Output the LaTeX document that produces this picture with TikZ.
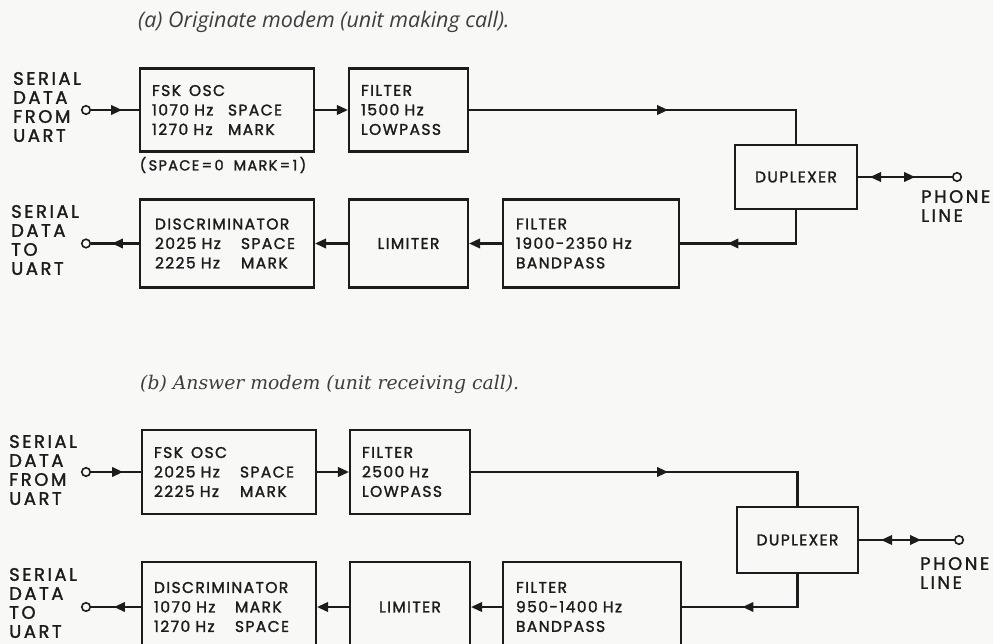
\documentclass[tikz,border=0pt]{standalone}
\usepackage{fontspec}
\setmainfont{Poppins}
\newfontfamily\capa[]{Open Sans}
\newfontfamily\capb[]{DejaVu Serif}
\newfontfamily\dia[LetterSpace=9, FakeBold=1.6]{Poppins}
\newfontfamily\dial[LetterSpace=14, FakeBold=1.6]{Poppins}
\usetikzlibrary{arrows.meta,decorations.markings}
\definecolor{ink}{RGB}{28,28,28}
\definecolor{paper}{RGB}{248,248,246}
\tikzset{
  x=1pt, y=-1pt,
  >={Triangle[length=11pt,width=9.5pt]},
  wire/.style={draw=ink, line width=2.1pt},
  box/.style={draw=ink, line width=2.1pt, inner xsep=12pt, inner ysep=0pt, align=left,
    text=ink, font=\dia\fontsize{15.5}{19.5}\selectfont},
  cbox/.style={box, align=center, inner xsep=0pt},
  term/.style={circle, draw=ink, line width=1.6pt, fill=paper, inner sep=0pt, minimum size=8.5pt},
  lbl/.style={align=left, inner sep=0pt, text=ink, font=\dial\fontsize{18}{19}\selectfont},
  midarr/.style={postaction={decorate, decoration={markings, mark=at position #1 with {\arrow{>}}}}},
  midrev/.style={postaction={decorate, decoration={markings, mark=at position #1 with {\arrowreversed{>}}}}},
}
\newcommand{\col}[2]{\makebox[#1][l]{#2}}
\begin{document}
\begin{tikzpicture}
\useasboundingbox (0,0) rectangle (993,644);
\fill[paper] (0,0) rectangle (993,644);
\clip (0,0) rectangle (993,644);

% ---------- (a) ----------
\node[anchor=west, inner sep=0pt, text=ink!85, font=\capa\itshape\fontsize{21.5}{24}\selectfont] (capA) at (138,22) {(a) Originate modem (unit making call).};

\node[lbl, anchor=west] (serA1) at (13,107) {SERIAL\\DATA\\FROM\\UART};
\node[lbl, anchor=west] (serA2) at (11,240) {SERIAL\\DATA\\TO\\UART};
\node[term] (inA) at (86,110) {};
\node[term] (outA) at (86,243.5) {};

\node[box, text width=150pt, minimum height=83pt] (fskA) at (227,110)
  {FSK\hspace{8pt}OSC\\\col{76pt}{1070~Hz}SPACE\\\col{76pt}{1270~Hz}MARK};
\node[box, text width=95pt, minimum height=83pt] (filA) at (408.5,110)
  {FILTER\\1500~Hz\\LOWPASS};
\node[cbox, minimum width=122pt, minimum height=64pt] (dupA) at (796,177) {DUPLEXER};
\node[box, inner xsep=15pt, text width=144pt, minimum height=88pt] (disA) at (227,243.5)
  {DISCRIMINATOR\\\col{86pt}{2025~Hz}SPACE\\\col{86pt}{2225~Hz}MARK};
\node[cbox, minimum width=119pt, minimum height=88pt] (limA) at (408.5,243.5) {LIMITER};
\node[box, inner xsep=13pt, text width=150pt, minimum height=88pt] (bpA) at (591,243.5)
  {FILTER\\1900-2350~Hz\\BANDPASS};
\node[term] (phA) at (957,177) {};
\node[lbl, anchor=west] (phoneA) at (921,206) {PHONE\\LINE};
\node[inner sep=0pt, text=ink, font=\dia\fontsize{14.5}{16}\selectfont] (smA) at (223,165) {(\,SPACE\,=\,0\hspace{10pt}MARK\,=\,1\,)};

\draw[wire, midarr=31pt] (inA) -- (fskA.west);
\draw[wire, ->] (fskA.east) -- (filA.west);
\draw[wire, midarr=199pt] (filA.east) -- (dupA.north |- filA.east) -- (dupA.north);
\draw[wire, midarr=102pt] (dupA.south) |- (bpA.east);
\draw[wire, ->] (bpA.west) -- (limA.east);
\draw[wire, ->] (limA.west) -- (disA.east);
\draw[wire, midarr=27pt] (disA.west) -- (outA);
\draw[wire, midrev=12pt, midarr=57pt] (dupA.east) -- (phA);

% ---------- (b) ----------
\node[anchor=west, inner sep=0pt, text=ink!85, font=\capb\itshape\fontsize{18.8}{22}\selectfont] (capB) at (140,384) {(b) Answer modem (unit receiving call).};

\node[lbl, anchor=west] (serB1) at (9,470) {SERIAL\\DATA\\FROM\\UART};
\node[lbl, anchor=west] (serB2) at (9,603) {SERIAL\\DATA\\TO\\UART};
\node[term] (inB) at (86,472) {};
\node[term] (outB) at (86,607) {};

\node[box, text width=150pt, minimum height=84pt] (fskB) at (229,472)
  {FSK\hspace{8pt}OSC\\\col{86pt}{2025~Hz}SPACE\\\col{86pt}{2225~Hz}MARK};
\node[box, text width=96pt, minimum height=84pt] (filB) at (410,472)
  {FILTER\\2500~Hz\\LOWPASS};
\node[cbox, minimum width=121pt, minimum height=66pt] (dupB) at (797.5,540) {DUPLEXER};
\node[box, text width=150pt, minimum height=90pt] (disB) at (229,607)
  {DISCRIMINATOR\\\col{81pt}{1070~Hz}MARK\\\col{81pt}{1270~Hz}SPACE};
\node[cbox, minimum width=120pt, minimum height=90pt] (limB) at (410,607) {LIMITER};
\node[box, inner xsep=13pt, text width=152pt, minimum height=90pt] (bpB) at (592,607)
  {FILTER\\950-1400~Hz\\BANDPASS};
\node[term] (phB) at (959,540) {};
\node[lbl, anchor=west] (phoneB) at (920,573) {PHONE\\LINE};

\draw[wire, midarr=32pt] (inB) -- (fskB.west);
\draw[wire, ->] (fskB.east) -- (filB.west);
\draw[wire, midarr=197pt] (filB.east) -- (dupB.north |- filB.east) -- (dupB.north);
\draw[wire, midarr=88pt] (dupB.south) |- (bpB.east);
\draw[wire, ->] (bpB.west) -- (limB.east);
\draw[wire, ->] (limB.west) -- (disB.east);
\draw[wire, midarr=27pt] (disB.west) -- (outB);
\draw[wire, midrev=22pt, midarr=62pt] (dupB.east) -- (phB);
\end{tikzpicture}
\end{document}
